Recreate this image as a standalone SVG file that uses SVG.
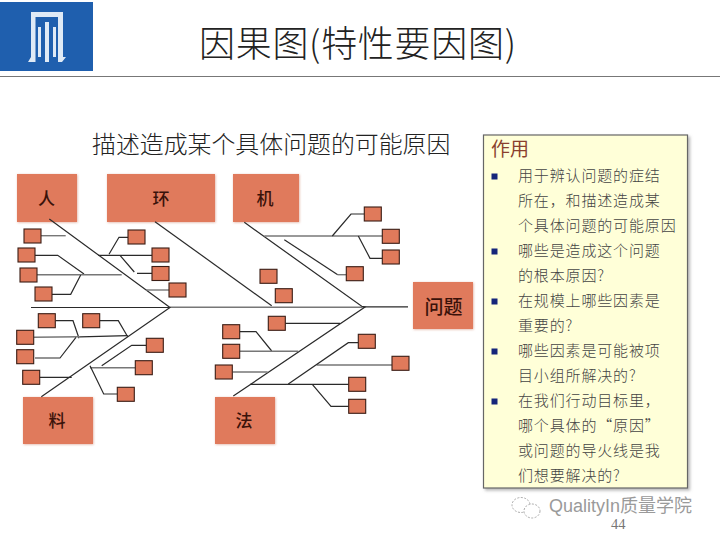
<svg xmlns="http://www.w3.org/2000/svg" width="720" height="540" viewBox="0 0 720 540">
<style>
text{font-family:"Liberation Serif","Noto Sans CJK SC",serif}
.cjk{font-family:"Noto Sans CJK SC",sans-serif;font-weight:300}
.big{fill:#e07a5b;filter:url(#glow)}
.sm{fill:#e07a5b;stroke:#3a1d14;stroke-width:1.1}
.nl{font-family:"Noto Sans CJK SC",sans-serif;font-size:17px;font-weight:500;fill:#3a120a;text-anchor:middle}
.c{fill:none;stroke:#2a2a2a;stroke-width:1.2}
.g{fill:none;stroke:#777;stroke-width:1.4}
.t{font-family:"Noto Sans CJK SC",sans-serif;font-weight:300;font-size:15px;letter-spacing:0.85px;fill:#444}
.b{fill:#15257a}
</style>
<defs>
<filter id="glow" x="-20%" y="-20%" width="140%" height="140%"><feDropShadow dx="0.6" dy="0.6" stdDeviation="1.2" flood-color="#d9a090" flood-opacity="0.8"/></filter>
<filter id="sh" x="-5%" y="-5%" width="110%" height="110%"><feDropShadow dx="2" dy="2" stdDeviation="1.5" flood-color="#888" flood-opacity="0.6"/></filter>
</defs>
<rect width="720" height="540" fill="#fff"/>
<g id="logo">
<rect x="0" y="2" width="93" height="69" fill="#1f5fae"/>
<path d="M31 12H63V57H66L62 62H58V17H35.500V62H28L31 57Z" fill="#dfeaf6"/>
<path d="M38 27H41V57H38ZM45 22H49V62H45ZM53 27H56V57H53Z" fill="#dfeaf6"/>
</g>
<line x1="0" y1="76.500" x2="720" y2="76.500" stroke="#777" stroke-width="1.200"/>
<text class="cjk" x="199" y="57" font-size="36" letter-spacing="0.700" fill="#222">因果图(特性要因图)</text>
<text class="cjk" x="92" y="153" font-size="23.900" fill="#222">描述造成某个具体问题的可能原因</text>

<g id="node-ren"><rect class="big" x="17" y="174" width="60" height="48"/><text class="nl" x="46.500" y="205">人</text></g>
<g id="node-huan"><rect class="big" x="107" y="174" width="108" height="48"/><text class="nl" x="161" y="205">环</text></g>
<g id="node-ji"><rect class="big" x="233" y="174" width="66" height="48"/><text class="nl" x="265" y="205">机</text></g>
<g id="node-wenti"><rect class="big" x="413" y="282" width="60" height="47"/><text class="nl" x="443.500" y="314" style="font-size:19px">问题</text></g>
<g id="node-liao"><rect class="big" x="23" y="397" width="70" height="47"/><text class="nl" x="57" y="427">料</text></g>
<g id="node-fa"><rect class="big" x="215" y="397" width="60" height="47"/><text class="nl" x="244" y="427">法</text></g>

<g id="connectors">
<path class="c" d="M31 307.500H170"/>
<path class="g" d="M170 307.300H362"/>
<path class="c" d="M362 306.800H408"/>
<path class="c" d="M49.300 219L170 307.500L41.300 396.700"/>
<path class="c" d="M155 221.700L271.700 305.700"/>
<path class="c" d="M244.300 222.300L361.700 306.300L365 307L233.300 396"/>
<path class="g" d="M41 235.700H65.700"/>
<path class="c" d="M35 255.300H57.700L84 274"/>
<path class="g" d="M37 274.700H121.700"/>
<path class="c" d="M52 294.300H70.700L80.700 275"/>
<path class="c" d="M128 237.300H119L109 254.300"/>
<path class="c" d="M98.300 255.300H152M120 255.300L134.300 272M137 273.300H152"/>
<path class="g" d="M146 290H169"/>
<path class="g" d="M264.300 236H382.300"/>
<path class="c" d="M364.300 214H351L332.300 236M358.300 236L370 258.300H382.300"/>
<path class="c" d="M284.300 239.700L337.700 274.700"/>
<path class="g" d="M337.700 274.700H346.300"/>
<path class="c" d="M55.300 320.700H73L79 338.300M99.700 320.700H118.300L127.700 336.700"/>
<path class="g" d="M33.700 337.300L80 336.800"/>
<path class="c" d="M80 336.800L127.700 335.700"/>
<path class="c" d="M35 358H60L76 337.300"/>
<path class="c" d="M39.700 377.300H71.700"/>
<path class="c" d="M146.300 345.300H131.700L101.700 365.700"/>
<path class="g" d="M90 367.700H135.300"/>
<path class="c" d="M90 365.700L103.700 394H117.300"/>
<path class="c" d="M285.300 323.300H340"/>
<path class="c" d="M239.700 331.700H256L271.700 351"/>
<path class="g" d="M239.700 351.300H298.300M232.700 372H267.700M316.700 365H392"/>
<path class="c" d="M358.300 342.700H348.300L288.300 384"/>
<path class="c" d="M250 384.300H348.700M312.300 384.300L331 406.300H348.700"/>
</g>

<g id="causes">
<rect id="n1" class="sm" x="24" y="229" width="17" height="14"/>
<rect id="n2" class="sm" x="18" y="248" width="17" height="14"/>
<rect id="n3" class="sm" x="20" y="268" width="17" height="14"/>
<rect id="n4" class="sm" x="35" y="287" width="17" height="14"/>
<rect id="n5" class="sm" x="128" y="230" width="17" height="14"/>
<rect id="n6" class="sm" x="152" y="248" width="17" height="14"/>
<rect id="n7" class="sm" x="152" y="266.500" width="17" height="14"/>
<rect id="n8" class="sm" x="169" y="283" width="17" height="14"/>
<rect id="n9" class="sm" x="364.300" y="207" width="17" height="14"/>
<rect id="n10" class="sm" x="382.300" y="229.300" width="17" height="14"/>
<rect id="n11" class="sm" x="382.300" y="250" width="17" height="14"/>
<rect id="n12" class="sm" x="346.300" y="266.700" width="17" height="14"/>
<rect id="n13" class="sm" x="260" y="269.300" width="17" height="14"/>
<rect id="n14" class="sm" x="275.300" y="288.700" width="17" height="14"/>
<rect id="n15" class="sm" x="38.300" y="313.700" width="17" height="14"/>
<rect id="n16" class="sm" x="82.700" y="313.700" width="17" height="14"/>
<rect id="n17" class="sm" x="16.700" y="330.300" width="17" height="14"/>
<rect id="n18" class="sm" x="16.700" y="349.700" width="17" height="14"/>
<rect id="n19" class="sm" x="22.700" y="370.300" width="17" height="14"/>
<rect id="n20" class="sm" x="146.300" y="338.300" width="17" height="14"/>
<rect id="n21" class="sm" x="135.300" y="360.700" width="17" height="14"/>
<rect id="n22" class="sm" x="117.300" y="387.300" width="17" height="14"/>
<rect id="n23" class="sm" x="268.300" y="316.300" width="17" height="14"/>
<rect id="n24" class="sm" x="222.700" y="324.700" width="17" height="14"/>
<rect id="n25" class="sm" x="222.700" y="344.300" width="17" height="14"/>
<rect id="n26" class="sm" x="215.300" y="365" width="17" height="14"/>
<rect id="n27" class="sm" x="358.300" y="334.300" width="17" height="14"/>
<rect id="n28" class="sm" x="392" y="356.300" width="17" height="14"/>
<rect id="n29" class="sm" x="348.700" y="377.300" width="17" height="14"/>
<rect id="n30" class="sm" x="348.700" y="399.300" width="17" height="14"/>
</g>

<g id="panel">
<rect x="483.500" y="135" width="204" height="353" fill="#ffffd8" stroke="#666" stroke-width="1.200" filter="url(#sh)"/>
<text class="cjk" x="491" y="156" font-size="19" fill="#8a3f2e" style="font-weight:400">作用</text>
<rect class="b" x="491.500" y="173.500" width="6" height="6"/>
<rect class="b" x="491.500" y="248.500" width="6" height="6"/>
<rect class="b" x="491.500" y="298.500" width="6" height="6"/>
<rect class="b" x="491.500" y="348.500" width="6" height="6"/>
<rect class="b" x="491.500" y="398.500" width="6" height="6"/>
<text class="t" x="518" y="180.500">用于辨认问题的症结</text>
<text class="t" x="518" y="205.500">所在，和描述造成某</text>
<text class="t" x="518" y="230.500">个具体问题的可能原因</text>
<text class="t" x="518" y="255.500">哪些是造成这个问题</text>
<text class="t" x="518" y="280.500">的根本原因?</text>
<text class="t" x="518" y="305.500">在规模上哪些因素是</text>
<text class="t" x="518" y="330.500">重要的?</text>
<text class="t" x="518" y="355.500">哪些因素是可能被项</text>
<text class="t" x="518" y="380.500">目小组所解决的?</text>
<text class="t" x="518" y="405.500">在我们行动目标里，</text>
<text class="t" x="518" y="430.500">哪个具体的“原因”</text>
<text class="t" x="518" y="455.500">或问题的导火线是我</text>
<text class="t" x="518" y="480.500">们想要解决的?</text>
</g>

<g id="watermark">
<ellipse cx="521" cy="505" rx="9" ry="7.500" fill="none" stroke="#aaa" stroke-width="1" stroke-dasharray="2 1.500"/>
<ellipse cx="532" cy="511" rx="8" ry="7" fill="#fff" stroke="#aaa" stroke-width="1" stroke-dasharray="2 1.500"/>
<text x="549" y="512" font-size="18" fill="#9a9a9a" style="font-family:'Liberation Sans','Noto Sans CJK SC',sans-serif">QualityIn质量学院</text>
<text x="611" y="529" font-size="14.500" fill="#777">44</text>
</g>
</svg>
